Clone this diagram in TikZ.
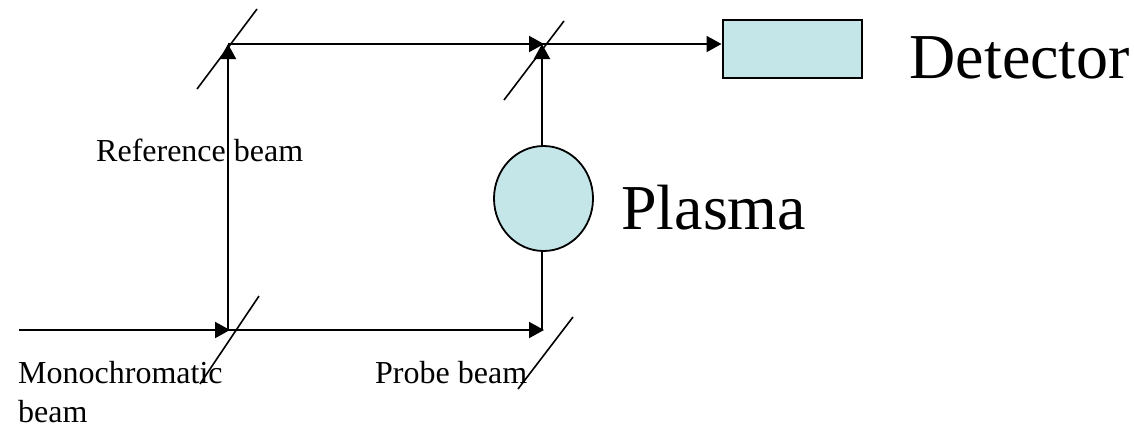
\documentclass[tikz,border=0pt]{standalone}
\usepackage{fontspec}
\setmainfont{Liberation Serif}
\usetikzlibrary{arrows.meta,shapes.geometric}
\begin{document}
\begin{tikzpicture}[x=1pt,y=-1pt,
  beam/.style={draw=black,line width=2pt},
  arrowbeam/.style={beam,-{Triangle[length=15pt,width=16pt]}},
  mirror/.style={draw=black,line width=1.6pt},
  lab/.style={inner sep=0pt,anchor=base west,font=\fontsize{32}{36}\selectfont},
  big/.style={inner sep=0pt,anchor=base west,font=\fontsize{64}{70}\selectfont}]
\useasboundingbox (0,0) rectangle (1134,426);
\definecolor{fillc}{RGB}{196,230,232}
\coordinate (ma) at (197,89);\coordinate (mb) at (257,9);
\coordinate (mc) at (504,100);\coordinate (md) at (564,21);
\coordinate (me) at (200,384);\coordinate (mf) at (259,296);
\coordinate (mg) at (518,389);\coordinate (mh) at (573,317);
\coordinate (tl) at (228,44);\coordinate (tr) at (542,44);
\coordinate (bl) at (228,330);\coordinate (br) at (542,330);
\coordinate (trtip) at (544,44);
\coordinate (bltip) at (230,330);\coordinate (brtip) at (544,330);
\coordinate (start) at (19,330);
\node[draw=black,line width=2pt,fill=fillc,minimum width=139pt,minimum height=58pt,inner sep=0pt] (det) at (792,49) {};
\node[draw=black,line width=1.8pt,fill=fillc,ellipse,minimum width=99pt,minimum height=105pt,inner sep=0pt] (pl) at (543.5,198.5) {};
\draw[mirror] (ma)--(mb);\draw[mirror] (mc)--(md);\draw[mirror] (me)--(mf);\draw[mirror] (mg)--(mh);
\draw[arrowbeam] (start)--(bltip);
\draw[arrowbeam] (bl)--(brtip);
\draw[arrowbeam] (bl)--(tl);
\draw[arrowbeam] (tl)--(trtip);
\draw[arrowbeam] (tr)--(tr -| det.west);
\draw[beam] (br)--(br |- pl.south);
\draw[arrowbeam] (tr |- pl.north)--(tr);
\node[big] (t1) at (909.5,78.5) {Detector};
\node[big] (t2) at (621,229) {Plasma};
\node[lab] (t3) at (96,161) {Reference beam};
\node[lab] (t4) at (18,383.5) {Monochromatic};
\node[lab] (t5) at (18,422) {beam};
\node[lab] (t6) at (375,383.5) {Probe beam};
\end{tikzpicture}
\end{document}
